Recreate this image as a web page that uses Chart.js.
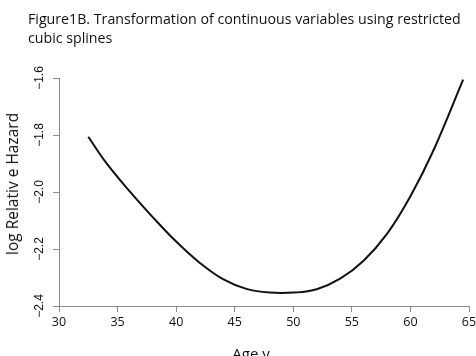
<!DOCTYPE html>
<html>
<head>
<meta charset="utf-8">
<script src="https://cdn.jsdelivr.net/npm/chart.js@4/dist/chart.umd.min.js"></script>
<style>
  html, body { margin: 0; padding: 0; background: #fff; overflow: hidden; }
  #wrap { position: relative; width: 476px; height: 356px; }
  #title { position: absolute; left: 28px; top: 9px; font: 14.2px "Open Sans", sans-serif; line-height: 19px; color: #111; }
  #xtitle { position: absolute; left: 251px; top: 343px; transform: translateX(-50%); font: 15px "Open Sans", sans-serif; color: #111; }
  #ytitle { position: absolute; left: 12px; top: 184px; transform: translate(-50%, -50%) rotate(-90deg); white-space: nowrap; font: 15.5px "Open Sans", sans-serif; color: #111; }
</style>
</head>
<body>
<div id="wrap">
  <canvas id="chart" width="476" height="356"></canvas>
  <div id="title">Figure1B. Transformation of continuous variables using restricted<br>cubic splines</div>
  <div id="xtitle">Age,y</div>
  <div id="ytitle">log Relativ e Hazard</div>
</div>
<script>
// spline curve
const ages = [32.5, 34, 36, 38, 40, 42, 44, 46, 48, 50, 52, 54, 56, 58, 60, 62, 64.5];
const logHazard = [-1.806, -1.896, -1.996, -2.088, -2.174, -2.248, -2.306, -2.340, -2.353, -2.353, -2.341, -2.304, -2.241, -2.147, -2.015, -1.851, -1.606];

const xTicks = [30, 35, 40, 45, 50, 55, 60, 65];
const yTicks = [-2.4, -2.2, -2.0, -1.8, -1.6];

const axisGray = "#8a8a8a";

new Chart(document.getElementById("chart"), {
  type: "line",
  data: {
    datasets: [{
      data: ages.map((a, i) => ({ x: a, y: logHazard[i] })),
      borderColor: "#111",
      borderWidth: 2,
      pointRadius: 0,
      fill: false,
      tension: 0.4
    }]
  },
  options: {
    responsive: false,
    animation: false,
    layout: { padding: { top: 78, right: 7, left: 0, bottom: 0 } },
    plugins: { legend: { display: false }, tooltip: { enabled: false } },
    scales: {
      x: {
        type: "linear",
        min: 30, max: 65,
        afterBuildTicks: s => { s.ticks = xTicks.map(v => ({ value: v })); },
        afterFit: s => { s.height = 50; s.paddingLeft = 0; s.paddingRight = 0; },
        grid: { drawOnChartArea: false, tickLength: 6, color: axisGray },
        border: { color: axisGray, width: 1 },
        ticks: { padding: 3, color: "#111", font: { family: "Open Sans", size: 12.5 }, maxRotation: 0 }
      },
      y: {
        min: -2.4, max: -1.6,
        afterBuildTicks: s => { s.ticks = yTicks.map(v => ({ value: v })); },
        afterFit: s => { s.width = 59; s.paddingTop = 0; s.paddingBottom = 0; },
        grid: { drawOnChartArea: false, tickLength: 6, color: axisGray },
        border: { color: axisGray, width: 1 },
        ticks: {
          minRotation: 90, maxRotation: 90,
          crossAlign: "center",
          padding: 1,
          color: "#111",
          font: { family: "Liberation Sans", size: 12 },
          callback: v => (v < 0 ? "\u2212" : "") + Math.abs(v).toFixed(1)
        }
      }
    }
  }
});
</script>
</body>
</html>
